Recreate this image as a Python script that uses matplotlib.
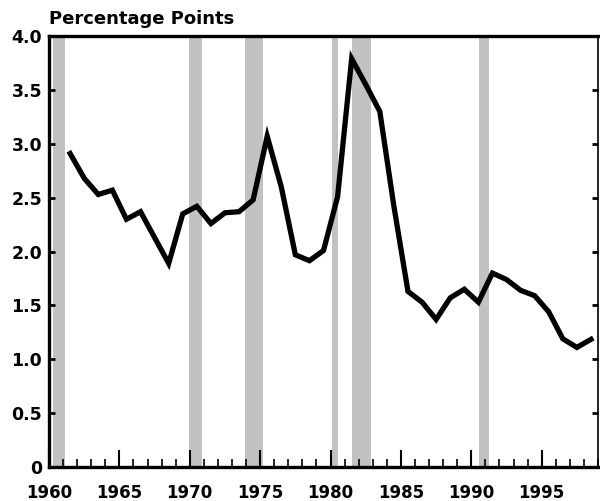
import matplotlib
matplotlib.use("Agg")
import matplotlib.pyplot as plt
from matplotlib.ticker import MultipleLocator, FuncFormatter

years = list(range(1961, 1999))
values = [2.91, 2.68, 2.53, 2.57, 2.30, 2.37, 2.13, 1.89, 2.35, 2.42,
          2.26, 2.36, 2.37, 2.48, 3.07, 2.60, 1.97, 1.915, 2.01, 2.51,
          3.79, 3.55, 3.30, 2.42, 1.63, 1.53, 1.37, 1.57, 1.65, 1.53,
          1.80, 1.74, 1.64, 1.59, 1.44, 1.19, 1.11, 1.185]
recession_start = [1960.3, 1969.95, 1973.9, 1980.1, 1981.55, 1990.55]
recession_end = [1961.1, 1970.9, 1975.2, 1980.55, 1982.9, 1991.25]

plt.rcParams['font.family'] = ['DejaVu Sans']
plt.rcParams['font.weight'] = 'bold'

fig = plt.figure(figsize=(6.0, 5.01), dpi=100)
ax = fig.add_axes([0.0817, 0.0679, 0.915, 0.860])

for s, e in zip(recession_start, recession_end):
    ax.axvspan(s, e, facecolor='#c2c2c2', edgecolor='none', zorder=1)

ax.plot([y + 0.5 for y in years], values, color='black', linewidth=3.8,
        solid_joinstyle='miter', zorder=3)

ax.set_xlim(1960, 1999)
ax.set_ylim(0, 4.0)

ax.xaxis.set_major_locator(MultipleLocator(5))
ax.xaxis.set_minor_locator(MultipleLocator(1))
ax.yaxis.set_major_locator(MultipleLocator(0.5))
ax.yaxis.set_major_formatter(FuncFormatter(lambda v, p: '0' if v == 0 else f'{v:.1f}'))

ax.tick_params(axis='x', which='major', direction='in', length=12, width=1.5,
               labelsize=12, pad=12, top=False)
ax.tick_params(axis='x', which='minor', direction='in', length=6, width=1.2, top=False)
ax.tick_params(axis='y', which='major', direction='in', length=4, width=2,
               labelsize=12.5, pad=5, right=True)
for lab in ax.get_xticklabels() + ax.get_yticklabels():
    lab.set_fontweight('bold')

for side, lw in [('left', 2.4), ('bottom', 2.4), ('top', 2.4), ('right', 1.2)]:
    ax.spines[side].set_linewidth(lw)
    ax.spines[side].set_zorder(4)

fig.text(0.0817, 0.945, 'Percentage Points', fontsize=13, fontweight='bold',
         ha='left', va='bottom')

fig.savefig('out.png', dpi=100)
